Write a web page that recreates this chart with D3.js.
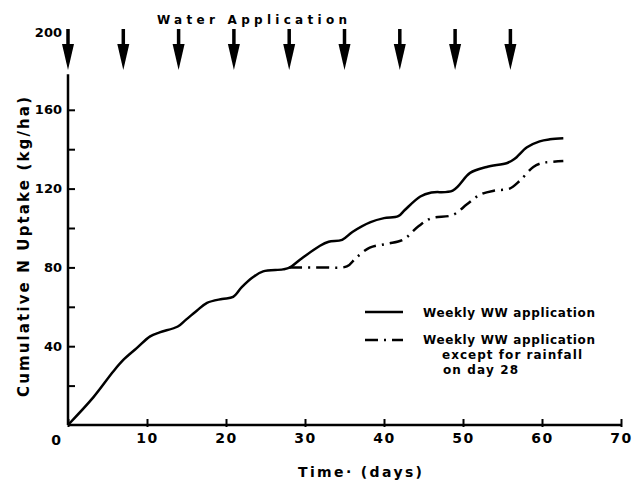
<!DOCTYPE html>
<html>
<head>
<meta charset="utf-8">
<script src="https://cdn.jsdelivr.net/npm/d3@7"></script>
<style>
  body { margin: 0; background: #fff; }
  text { font-family: "DejaVu Sans", sans-serif; font-weight: bold; fill: #000; }
</style>
</head>
<body>
<div id="chart"></div>
<script>
// weekly wastewater application, solid curve (day, kg/ha)
const weeklyDays = [0, 3.2, 5.7, 7, 8.7, 10.4, 11.6, 13.9, 14.8, 16.3, 17.6, 19.5, 20.9, 22, 23.4, 24.7, 27.2, 28.1,
  29.4, 31.9, 33, 34.7, 36, 38.3, 40, 41.8, 42.6, 44.6, 46, 48.7, 50.9, 53, 55.6, 56.5, 58.1, 59.7, 61, 62.7];
const weeklyUptake = [0, 14, 27, 33, 39, 45, 47, 50, 53, 58, 62, 64, 65, 70, 75, 78, 79, 80,
  84, 91, 93, 94, 98, 103, 105, 106, 109, 116, 118, 119, 128, 131, 133, 135, 141, 144, 145, 145.5];

// same, except rainfall on day 28 (dash-dot)
const rainDays = [28, 29.4, 32, 35.3, 36.5, 38.2, 40.4, 42.4, 44.4, 46, 48.7, 50.5, 52.2, 54, 55.9, 57.2, 58.9, 60, 61, 62.7];
const rainUptake = [80, 80, 80, 80.5, 85, 90, 92, 94, 101, 105, 106.6, 112, 117, 119, 120, 124, 131, 133, 133.5, 134];

const applicationDays = [0, 7, 14, 21, 28, 35, 42, 49, 56];
const xTicks = [0, 10, 20, 30, 40, 50, 60, 70];
const yTicks = [20, 40, 60, 80, 100, 120, 140, 160];
const yLabelled = [40, 80, 120, 160];

const W = 636, H = 483;
const svg = d3.select('#chart').append('svg')
  .attr('width', W).attr('height', H);

const x = d3.scaleLinear().domain([0, 70]).range([68, 621]);
const y = d3.scaleLinear().domain([0, 200]).range([425, 31]);

// axes
const xAxis = d3.axisBottom(x).tickValues(xTicks).tickSizeInner(-6).tickSizeOuter(0)
  .tickFormat(d => d === 0 ? '' : d);
const gx = svg.append('g').attr('transform', `translate(0,${y(0)})`).call(xAxis);
gx.select('.domain').remove();
gx.selectAll('line').attr('stroke', '#000').attr('stroke-width', 2).attr('y2', -6).attr('y1', 2);
gx.selectAll('text').attr('font-size', 14).attr('dy', '1.1em').attr('letter-spacing', 1.5);

const yAxis = d3.axisLeft(y).tickValues(yTicks).tickSizeInner(-7).tickSizeOuter(0)
  .tickFormat(d => yLabelled.includes(d) ? d : '');
const gy = svg.append('g').attr('transform', `translate(${x(0)},0)`).call(yAxis);
gy.select('.domain').remove();
gy.selectAll('line').attr('stroke', '#000').attr('stroke-width', 2);
gy.selectAll('text').attr('font-size', 13).attr('x', -6);

svg.append('line').attr('x1', x(0)).attr('x2', x(70)).attr('y1', y(0)).attr('y2', y(0))
  .attr('stroke', '#000').attr('stroke-width', 2.5);
svg.append('line').attr('x1', x(0)).attr('x2', x(0)).attr('y1', y(0)).attr('y2', y(178))
  .attr('stroke', '#000').attr('stroke-width', 2.5);

svg.append('text').attr('x', x(0) - 12).attr('y', y(0) + 20).attr('font-size', 14)
  .attr('text-anchor', 'middle').text('0');
svg.append('text').attr('x', x(0) - 6).attr('y', y(200) + 6).attr('font-size', 13)
  .attr('text-anchor', 'end').text('200');

// water application arrows
const arrow = svg.append('g').selectAll('g').data(applicationDays).enter().append('g')
  .attr('transform', d => `translate(${x(d)},0)`);
arrow.append('line').attr('x1', 0).attr('x2', 0).attr('y1', 29).attr('y2', 50)
  .attr('stroke', '#000').attr('stroke-width', 3.5);
arrow.append('path').attr('d', 'M-6,44 L6,44 L0,70 Z').attr('fill', '#000');

svg.append('text').attr('x', 157).attr('y', 24).attr('font-size', 12)
  .attr('textLength', 190).attr('lengthAdjust', 'spacing').text('Water  Application');

// curves
const line = d3.line().x(d => x(d[0])).y(d => y(d[1])).curve(d3.curveCatmullRom.alpha(0.5));
svg.append('path').datum(d3.zip(weeklyDays, weeklyUptake)).attr('d', line)
  .attr('fill', 'none').attr('stroke', '#000').attr('stroke-width', 2.5);
svg.append('path').datum(d3.zip(rainDays, rainUptake)).attr('d', line)
  .attr('fill', 'none').attr('stroke', '#000').attr('stroke-width', 2.5)
  .attr('stroke-dasharray', '13,6,2,6');

// axis titles
svg.append('text').attr('transform', 'translate(29,247) rotate(-90)')
  .attr('text-anchor', 'middle').attr('font-size', 15)
  .attr('textLength', 300).attr('lengthAdjust', 'spacing')
  .text('Cumulative N Uptake (kg/ha)');
svg.append('text').attr('x', 298).attr('y', 477).attr('font-size', 14)
  .attr('textLength', 124).attr('lengthAdjust', 'spacing').text('Time·  (days)');

// legend
const lg = svg.append('g');
lg.append('line').attr('x1', 365).attr('x2', 403).attr('y1', 312).attr('y2', 312)
  .attr('stroke', '#000').attr('stroke-width', 2.5);
lg.append('line').attr('x1', 365).attr('x2', 403).attr('y1', 340).attr('y2', 340)
  .attr('stroke', '#000').attr('stroke-width', 2.5).attr('stroke-dasharray', '13,6,2,6');
lg.append('text').attr('x', 423).attr('y', 317).attr('font-size', 12)
  .attr('textLength', 172).attr('lengthAdjust', 'spacing').text('Weekly WW application');
lg.append('text').attr('x', 423).attr('y', 344).attr('font-size', 12)
  .attr('textLength', 172).attr('lengthAdjust', 'spacing').text('Weekly WW application');
lg.append('text').attr('x', 442).attr('y', 359).attr('font-size', 12)
  .attr('textLength', 140).attr('lengthAdjust', 'spacing').text('except for rainfall');
lg.append('text').attr('x', 443).attr('y', 374).attr('font-size', 12)
  .attr('textLength', 75).attr('lengthAdjust', 'spacing').text('on day 28');
</script>
</body>
</html>
